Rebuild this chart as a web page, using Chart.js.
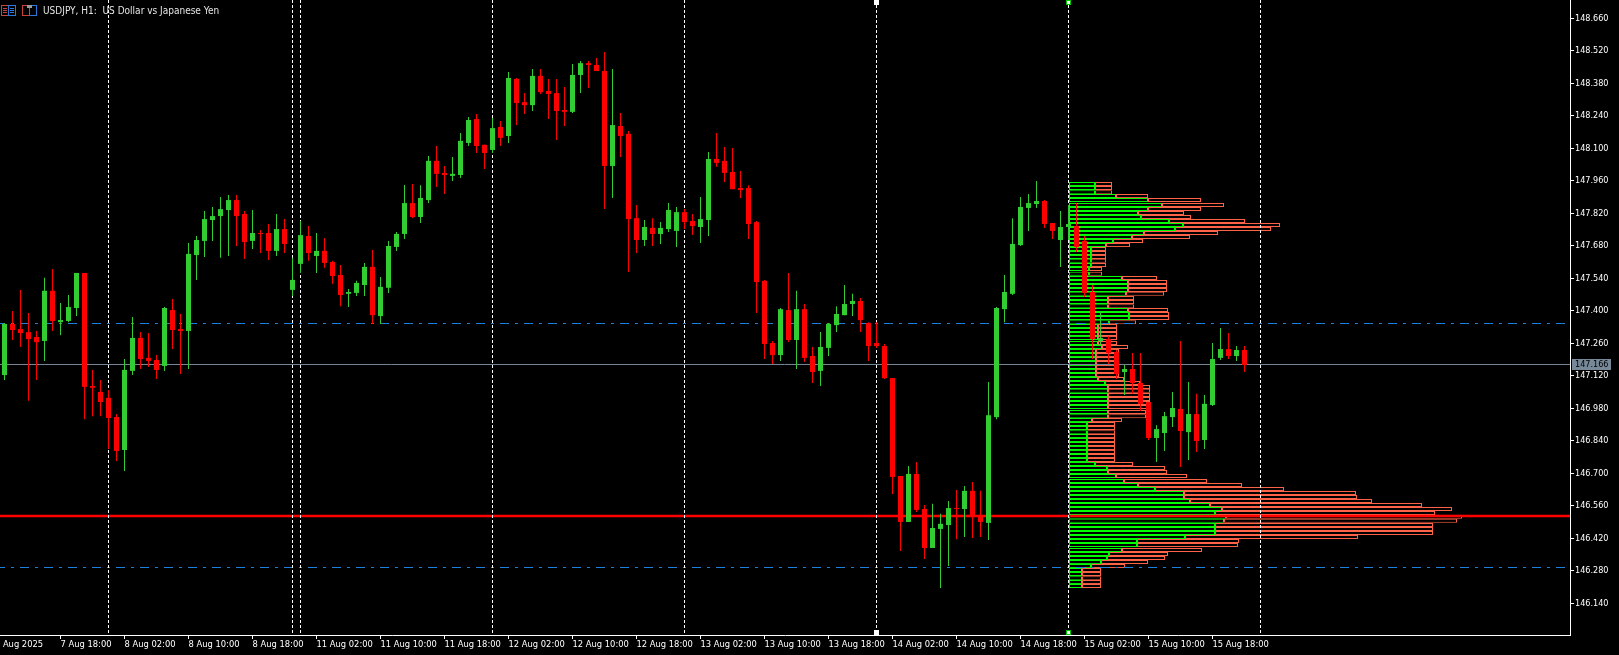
<!DOCTYPE html>
<html>
<head>
<meta charset="utf-8">
<title>USDJPY, H1</title>
<script src="https://cdn.jsdelivr.net/npm/chart.js@4"></script>
<style>
  html, body { margin: 0; padding: 0; background: #000; overflow: hidden; }
  canvas { display: block; }
</style>
</head>
<body>
<canvas id="priceChart" width="1619" height="655"></canvas>
<script>
// H1 candles, one entry per bar
var opens = [
  147.123,147.343,147.321,147.308,147.287,147.270,147.486,147.351,147.356,147.412,
  147.563,147.076,147.050,147.025,146.942,146.800,147.141,147.283,147.197,147.188,
  147.162,147.403,147.321,147.313,147.640,147.701,147.791,147.808,147.834,147.877,
  147.817,147.701,147.735,147.735,147.658,147.752,147.490,147.602,147.722,147.636,
  147.658,147.610,147.554,147.473,147.477,147.511,147.589,147.377,147.499,147.675,
  147.731,147.864,147.804,147.877,148.046,147.994,147.981,147.985,148.123,148.226,
  148.115,148.093,148.192,148.153,148.399,148.299,148.286,148.412,148.347,148.338,
  148.265,148.257,148.416,148.467,148.459,148.433,148.024,148.196,148.162,147.799,
  147.705,147.757,147.731,147.752,147.744,147.825,147.787,147.761,147.791,148.054,
  148.046,147.998,147.929,147.929,147.782,147.529,147.261,147.209,147.403,147.274,
  147.407,147.205,147.141,147.240,147.338,147.381,147.429,147.442,147.347,147.261,
  147.248,147.110,146.688,146.490,146.697,146.546,146.378,146.460,146.477,146.550,
  146.546,146.624,146.516,146.486,146.942,147.407,147.473,147.683,147.843,147.860,
  147.873,147.778,147.705,147.761,147.765,147.701,147.481,147.270,147.278,147.222,
  147.136,147.149,147.089,147.007,146.852,146.873,146.942,146.977,146.877,146.955,
  146.843,146.994,147.197,147.235,147.205,147.231
];
var highs = [
  147.347,147.399,147.490,147.390,147.313,147.542,147.580,147.433,147.468,147.563,
  147.563,147.145,147.102,147.059,146.955,147.192,147.373,147.308,147.304,147.209,
  147.416,147.451,147.386,147.692,147.722,147.830,147.847,147.890,147.899,147.899,
  147.830,147.834,147.748,147.774,147.817,147.795,147.628,147.787,147.765,147.735,
  147.714,147.615,147.597,147.494,147.529,147.606,147.662,147.546,147.701,147.739,
  147.942,147.946,147.941,148.067,148.110,148.024,148.063,148.166,148.235,148.248,
  148.115,148.231,148.218,148.429,148.403,148.338,148.442,148.442,148.399,148.399,
  148.364,148.463,148.476,148.476,148.489,148.515,148.442,148.252,148.175,147.856,
  147.791,147.799,147.782,147.864,147.847,147.838,147.817,147.890,148.084,148.166,
  148.106,148.101,148.002,147.941,147.787,147.533,147.270,147.412,147.563,147.486,
  147.429,147.244,147.308,147.347,147.420,147.511,147.473,147.455,147.351,147.351,
  147.257,147.110,146.688,146.731,146.748,146.563,146.568,146.525,146.580,146.628,
  146.645,146.662,146.624,147.093,147.416,147.554,147.799,147.890,147.903,147.959,
  147.877,147.778,147.830,147.856,147.864,147.722,147.511,147.394,147.291,147.231,
  147.166,147.218,147.218,147.007,146.907,146.964,147.050,147.270,147.093,147.042,
  147.037,147.261,147.326,147.304,147.248,147.248
];
var lows = [
  147.102,147.274,147.244,147.012,147.102,147.184,147.313,147.295,147.351,147.377,
  146.933,146.946,146.946,146.804,146.753,146.710,147.123,147.149,147.158,147.106,
  147.141,147.235,147.128,147.149,147.533,147.632,147.701,147.628,147.636,147.679,
  147.623,147.666,147.649,147.619,147.636,147.649,147.464,147.563,147.615,147.563,
  147.585,147.516,147.420,147.416,147.464,147.464,147.343,147.343,147.477,147.658,
  147.709,147.799,147.778,147.864,147.933,147.903,147.959,147.972,148.110,148.080,
  148.011,148.080,148.110,148.123,148.200,148.248,148.261,148.334,148.226,148.136,
  148.196,148.252,148.338,148.360,148.433,147.838,147.886,148.063,147.567,147.649,
  147.679,147.679,147.688,147.739,147.675,147.752,147.726,147.692,147.722,148.020,
  147.955,147.924,147.886,147.709,147.390,147.192,147.171,147.184,147.265,147.149,
  147.179,147.089,147.076,147.205,147.308,147.381,147.377,147.308,147.184,147.240,
  147.106,146.611,146.365,146.490,146.533,146.330,146.378,146.206,146.300,146.416,
  146.425,146.421,146.425,146.412,146.933,147.351,147.468,147.679,147.744,147.843,
  147.757,147.709,147.589,147.705,147.653,147.459,147.192,147.253,147.171,147.106,
  147.037,147.042,146.968,146.843,146.748,146.796,146.899,146.727,146.757,146.792,
  146.804,146.990,147.188,147.192,147.184,147.136
];
var closes = [
  147.343,147.317,147.304,147.278,147.265,147.486,147.356,147.360,147.416,147.563,
  147.072,147.068,147.007,146.938,146.796,147.145,147.283,147.192,147.184,147.145,
  147.412,147.317,147.313,147.645,147.705,147.795,147.808,147.838,147.877,147.808,
  147.696,147.735,147.731,147.658,147.752,147.688,147.533,147.726,147.649,147.658,
  147.606,147.550,147.468,147.481,147.520,147.589,147.381,147.503,147.679,147.731,
  147.864,147.804,147.886,148.046,147.990,147.985,147.990,148.132,148.222,148.110,
  148.080,148.187,148.145,148.403,148.295,148.286,148.412,148.342,148.334,148.261,
  148.257,148.416,148.467,148.459,148.433,148.024,148.200,148.153,147.795,147.705,
  147.761,147.731,147.757,147.834,147.825,147.782,147.765,147.795,148.054,148.037,
  147.994,147.924,147.920,147.774,147.524,147.257,147.209,147.407,147.274,147.407,
  147.197,147.136,147.244,147.343,147.386,147.429,147.442,147.360,147.248,147.248,
  147.110,146.684,146.490,146.697,146.542,146.378,146.464,146.482,146.550,146.546,
  146.624,146.512,146.490,146.950,147.412,147.481,147.688,147.847,147.864,147.873,
  147.774,147.744,147.761,147.774,147.675,147.477,147.278,147.283,147.218,147.128,
  147.149,147.089,146.999,146.852,146.890,146.946,146.981,146.882,146.955,146.839,
  146.999,147.192,147.235,147.205,147.231,147.166
];

// Volume profile rows: price level, buy part and total of each row
var profilePrices = [
  147.946,147.929,147.911,147.894,147.877,147.856,147.838,147.821,147.804,147.787,
  147.770,147.752,147.735,147.718,147.701,147.683,147.666,147.649,147.632,147.615,
  147.597,147.580,147.559,147.541,147.524,147.507,147.490,147.473,147.455,147.438,
  147.420,147.403,147.386,147.369,147.351,147.334,147.317,147.300,147.283,147.261,
  147.244,147.227,147.209,147.192,147.175,147.158,147.141,147.123,147.106,147.089,
  147.072,147.055,147.037,147.020,147.003,146.985,146.964,146.946,146.929,146.912,
  146.895,146.877,146.860,146.843,146.826,146.809,146.792,146.774,146.757,146.740,
  146.723,146.705,146.688,146.667,146.649,146.632,146.615,146.598,146.580,146.563,
  146.546,146.529,146.512,146.495,146.477,146.460,146.443,146.425,146.408,146.391,
  146.369,146.352,146.335,146.317,146.300,146.283,146.266,146.248,146.231,146.214
];
var profileBuy = [
  26,26,26,47,79,93,79,69,72,100,
  114,106,75,63,44,37,22,22,22,22,
  22,20,20,53,59,59,59,57,39,39,
  39,59,60,60,40,29,29,29,29,29,
  33,27,27,27,27,27,27,27,29,36,
  39,39,39,39,39,39,39,39,23,18,
  18,18,18,18,18,18,18,18,18,26,
  38,39,47,55,69,86,115,115,121,141,
  153,146,157,155,146,146,146,116,68,68,
  53,40,38,32,22,13,13,13,13,13
];
var profileTotal = [
  43,43,43,79,132,155,132,115,122,176,
  211,202,149,121,74,61,37,37,37,37,
  37,33,33,88,98,98,98,95,65,65,
  65,99,100,100,67,48,48,48,48,48,
  59,50,50,50,50,50,50,50,55,71,
  81,81,81,81,81,81,77,77,53,46,
  46,46,46,46,46,46,46,46,46,64,
  96,98,118,138,173,215,287,288,303,353,
  383,366,393,388,364,364,364,289,170,169,
  133,99,96,79,56,32,32,32,32,32
];

// Price axis
var priceTicks = [148.66,148.52,148.38,148.24,148.10,147.96,147.82,147.68,147.54,147.40,147.26,147.12,146.98,146.84,146.70,146.56,146.42,146.28,146.14];

// Time axis, ticks are bar numbers (the first label starts off the left edge)
var timeTicks = [-1.2,7,15,23,31,39,47,55,63,71,79,87,95,103,111,119,127,135,143,151];
var timeLabels = ['7 Aug 2025','7 Aug 18:00','8 Aug 02:00','8 Aug 10:00','8 Aug 18:00','11 Aug 02:00','11 Aug 10:00','11 Aug 18:00','12 Aug 02:00','12 Aug 10:00','12 Aug 18:00','13 Aug 02:00','13 Aug 10:00','13 Aug 18:00','14 Aug 02:00','14 Aug 10:00','14 Aug 18:00','15 Aug 02:00','15 Aug 10:00','15 Aug 18:00'];

// Vertical session lines (bar numbers) and horizontal levels (prices)
var sessionBars = [13,36,37,61,85,109,133,157];
var valueAreaHigh = 147.3451;
var valueAreaLow = 146.2938;
var pointOfControl = 146.5157;
var bidLine = 147.1685;
var bidLabel = '147.166';

var UP = '#32cd32';
var DOWN = '#ff0000';
var FONT_FAMILY = '"DejaVu Sans Condensed", "Liberation Sans", sans-serif';
var X_MIN = -0.5625, X_MAX = 195.6875;
var Y_MIN = 146.003, Y_MAX = 148.739;

function candleColor(ctx) {
  return closes[ctx.dataIndex] >= opens[ctx.dataIndex] ? UP : DOWN;
}

function levelLine(value, color, width, dash, order) {
  return {
    type: 'line',
    data: [{ x: -1.0625, y: value }, { x: X_MAX, y: value }],
    borderColor: color,
    borderWidth: width,
    borderDash: dash,
    pointRadius: 0,
    fill: false,
    order: order
  };
}

// The axes keep their labels inside the canvas, so no extra padding around the plot
function noPadding(s) {
  s.paddingLeft = 0;
  s.paddingRight = 0;
  s.paddingTop = 0;
  s.paddingBottom = 0;
}

var datasets = [];

// Candle bodies on top, wicks under them
datasets.push({
  type: 'bar',
  data: opens.map(function(o, i) { return { x: i, y: [o, closes[i]] }; }),
  backgroundColor: candleColor,
  barThickness: 5,
  grouped: false,
  inflateAmount: 0,
  order: 0
});
datasets.push({
  type: 'bar',
  data: lows.map(function(l, i) { return { x: i, y: [l, highs[i]] }; }),
  backgroundColor: candleColor,
  barThickness: 1,
  grouped: false,
  inflateAmount: 0,
  order: 1
});

// Session separators
sessionBars.forEach(function(bar) {
  datasets.push({
    type: 'line',
    data: [{ x: bar, y: Y_MAX }, { x: bar, y: Y_MIN }],
    borderColor: '#ffffff',
    borderWidth: 1,
    borderDash: [3, 2],
    pointRadius: 0,
    fill: false,
    order: 2
  });
});

// Levels
datasets.push(levelLine(pointOfControl, '#ff0000', 2.6, [], 3));
datasets.push(levelLine(bidLine, '#778899', 1, [], 4));
datasets.push(levelLine(valueAreaHigh, '#1e80dc', 1, [9, 6, 3, 6], 5));
datasets.push(levelLine(valueAreaLow, '#1e80dc', 1, [9, 6, 3, 6], 5));

// Volume profile
datasets.push({
  type: 'bar',
  indexAxis: 'y',
  xAxisID: 'volume',
  data: profilePrices.map(function(p, i) { return { y: p, x: [0, profileBuy[i]] }; }),
  backgroundColor: '#000000',
  borderColor: '#00ff00',
  borderWidth: 1,
  borderSkipped: false,
  barThickness: 4,
  grouped: false,
  inflateAmount: 0,
  order: 6
});
datasets.push({
  type: 'bar',
  indexAxis: 'y',
  xAxisID: 'volume',
  data: profilePrices.map(function(p, i) { return { y: p, x: [profileBuy[i], profileTotal[i]] }; }),
  backgroundColor: '#000000',
  borderColor: '#ff6347',
  borderWidth: 1,
  borderSkipped: false,
  barThickness: 4,
  grouped: false,
  inflateAmount: 0,
  order: 7
});

// Title, toolbar icons, bid label and the small line handles
var overlay = {
  id: 'overlay',
  afterDraw: function(chart) {
    var ctx = chart.ctx;
    var x = chart.scales.x;
    var y = chart.scales.y;
    ctx.save();

    function icon(left) {
      ctx.lineWidth = 1;
      ctx.strokeStyle = '#c8443a';
      ctx.strokeRect(left + 0.5, 5.5, 7, 10);
      ctx.strokeStyle = '#2a78d8';
      ctx.strokeRect(left + 7.5, 5.5, 7, 10);
    }
    icon(1);
    ctx.fillStyle = '#c8443a';
    ctx.fillRect(3, 8, 4, 1);
    ctx.fillRect(3, 10, 4, 1);
    ctx.fillRect(3, 12, 4, 1);
    ctx.fillStyle = '#2a78d8';
    ctx.fillRect(10, 8, 4, 1);
    ctx.fillRect(10, 10, 4, 1);
    ctx.fillRect(10, 12, 4, 1);
    icon(22);
    ctx.fillStyle = '#9a9a9a';
    ctx.fillRect(27, 5, 5, 3);

    ctx.font = '10px ' + FONT_FAMILY;
    ctx.fillStyle = '#e4e4e4';
    ctx.textAlign = 'left';
    ctx.textBaseline = 'middle';
    ctx.fillText('USDJPY, H1:  US Dollar vs Japanese Yen', 43, 11);

    // bid label on the price axis
    var by = y.getPixelForValue(bidLine);
    ctx.fillStyle = '#778899';
    ctx.fillRect(1572, Math.round(by) - 5, 39, 11);
    ctx.font = '9px ' + FONT_FAMILY;
    ctx.fillStyle = '#000000';
    ctx.fillText(bidLabel, 1575, by + 0.5);

    // handles of the selected lines
    var h1 = x.getPixelForValue(sessionBars[5]);
    var h2 = x.getPixelForValue(sessionBars[6]);
    ctx.fillStyle = '#ffffff';
    ctx.fillRect(h1 - 2.5, 0, 5, 5);
    ctx.fillRect(h1 - 2.5, 630, 5, 5);
    ctx.fillStyle = '#00c800';
    ctx.fillRect(h2 - 2.5, 0, 5, 5);
    ctx.fillRect(h2 - 2.5, 630, 5, 5);
    ctx.fillStyle = '#ffffff';
    ctx.fillRect(h2 - 1.5, 1, 3, 3);
    ctx.fillRect(h2 - 1.5, 631, 3, 3);
    ctx.restore();
  }
};

new Chart(document.getElementById('priceChart').getContext('2d'), {
  type: 'bar',
  data: { datasets: datasets },
  plugins: [overlay],
  options: {
    responsive: false,
    animation: false,
    events: [],
    layout: { autoPadding: false, padding: 0 },
    plugins: { legend: { display: false }, tooltip: { enabled: false }, title: { display: false } },
    scales: {
      x: {
        type: 'linear',
        min: X_MIN,
        max: X_MAX,
        bounds: 'data',
        offset: false,
        border: { color: '#ffffff', width: 1 },
        grid: { drawOnChartArea: false, drawTicks: true, tickLength: 4, tickColor: '#ffffff', offset: false },
        ticks: {
          color: '#ffffff',
          font: { family: FONT_FAMILY, size: 9.3 },
          align: 'start',
          autoSkip: false,
          maxRotation: 0,
          padding: 0,
          callback: function(v) { return timeLabels[timeTicks.indexOf(v)]; }
        },
        afterBuildTicks: function(s) { s.ticks = timeTicks.map(function(v) { return { value: v }; }); },
        afterFit: function(s) { s.height = 20; noPadding(s); }
      },
      volume: {
        type: 'linear',
        axis: 'x',
        display: false,
        offset: false,
        min: -1069,
        max: 501
      },
      y: {
        type: 'linear',
        position: 'right',
        min: Y_MIN,
        max: Y_MAX,
        bounds: 'data',
        offset: false,
        border: { color: '#ffffff', width: 1 },
        grid: { drawOnChartArea: false, drawTicks: true, tickLength: 4, tickColor: '#ffffff', offset: false },
        ticks: {
          color: '#ffffff',
          font: { family: FONT_FAMILY, size: 9 },
          autoSkip: false,
          padding: 1,
          callback: function(v) { return v.toFixed(3); }
        },
        afterBuildTicks: function(s) { s.ticks = priceTicks.map(function(v) { return { value: v }; }); },
        afterFit: function(s) { s.width = 49; noPadding(s); }
      }
    }
  }
});
</script>
</body>
</html>
